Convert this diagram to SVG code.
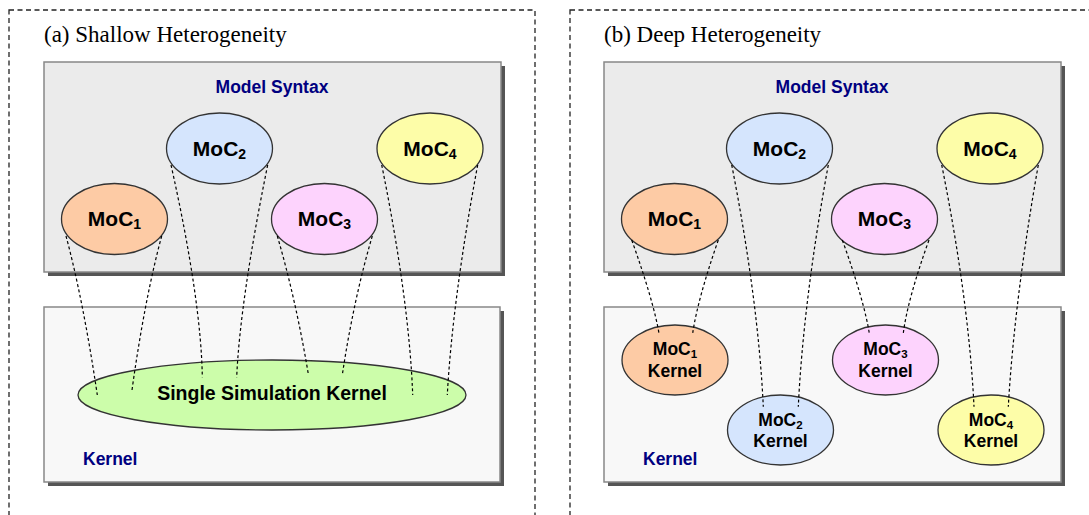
<svg xmlns="http://www.w3.org/2000/svg" width="1089" height="515" viewBox="0 0 1089 515">
<defs>
<style>
.frame{fill:none;stroke:#222;stroke-width:1.3;stroke-dasharray:5 3.5}
.title{font-family:"Liberation Serif","Times New Roman",serif;font-size:23px;fill:#000}
.shadow{fill:#555}
.syn{fill:#ebebeb;stroke:#888;stroke-width:1.5}
.ker{fill:#f8f8f8;stroke:#888;stroke-width:1.5}
.lab{font-family:"Liberation Sans",Arial,sans-serif;font-weight:bold;font-size:17.5px;fill:#000080}
.ell{stroke:#333;stroke-width:1.3}
.moc{font-family:"Liberation Sans",Arial,sans-serif;font-weight:bold;font-size:21px;fill:#000;text-anchor:middle}
.big{font-family:"Liberation Sans",Arial,sans-serif;font-weight:bold;font-size:19.5px;fill:#000;text-anchor:middle}
.mock{font-family:"Liberation Sans",Arial,sans-serif;font-weight:bold;font-size:17.5px;fill:#000;text-anchor:middle}
.c1{fill:#fdcba5}.c2{fill:#d5e5fd}.c3{fill:#fdd3fd}.c4{fill:#fdfda8}.cg{fill:#ccfdaa}
.conn{fill:none;stroke:#000;stroke-width:1.2;stroke-dasharray:3 2.5}
</style>
</defs>
<rect width="1089" height="515" fill="#fff"/>

<g id="panel-a">
<rect class="frame" x="9" y="10" width="526" height="560"/>
<text class="title" x="44" y="42">(a) Shallow Heterogeneity</text>
<g id="a-model-syntax">
<rect class="shadow" x="48" y="66" width="457" height="210"/>
<rect class="syn" x="44" y="62" width="457" height="210"/>
<text class="lab" x="272" y="92.5" text-anchor="middle">Model Syntax</text>
</g>
<g id="a-kernel">
<rect class="shadow" x="48" y="311" width="456" height="175"/>
<rect class="ker" x="44" y="307" width="456" height="175"/>
<text class="lab" x="83" y="465">Kernel</text>
</g>
<g id="a-moc1"><ellipse class="ell c1" cx="114.5" cy="219" rx="53" ry="35.5"/><text class="moc" x="114.5" y="226">MoC<tspan font-size="14" dy="3">1</tspan></text></g>
<g id="a-moc2"><ellipse class="ell c2" cx="219.5" cy="148.5" rx="53" ry="35.5"/><text class="moc" x="219.5" y="155.5">MoC<tspan font-size="14" dy="3">2</tspan></text></g>
<g id="a-moc3"><ellipse class="ell c3" cx="324.5" cy="219" rx="53" ry="35.5"/><text class="moc" x="324.5" y="226">MoC<tspan font-size="14" dy="3">3</tspan></text></g>
<g id="a-moc4"><ellipse class="ell c4" cx="430" cy="148.5" rx="53" ry="35.5"/><text class="moc" x="430" y="155.5">MoC<tspan font-size="14" dy="3">4</tspan></text></g>
<g id="a-single-kernel"><ellipse class="ell cg" cx="272" cy="395" rx="194" ry="35"/><text class="big" x="272" y="400">Single Simulation Kernel</text></g>
</g>

<g id="panel-b">
<rect class="frame" x="570" y="10" width="560" height="560"/>
<text class="title" x="604" y="42">(b) Deep Heterogeneity</text>
<g id="b-model-syntax">
<rect class="shadow" x="608" y="66" width="457" height="210"/>
<rect class="syn" x="604" y="62" width="457" height="210"/>
<text class="lab" x="832" y="92.5" text-anchor="middle">Model Syntax</text>
</g>
<g id="b-kernel">
<rect class="shadow" x="608" y="311" width="457" height="175"/>
<rect class="ker" x="604" y="307" width="457" height="175"/>
<text class="lab" x="643" y="465">Kernel</text>
</g>
<g id="b-moc1"><ellipse class="ell c1" cx="674.5" cy="219" rx="53" ry="35.5"/><text class="moc" x="674.5" y="226">MoC<tspan font-size="14" dy="3">1</tspan></text></g>
<g id="b-moc2"><ellipse class="ell c2" cx="779.5" cy="148.5" rx="53" ry="35.5"/><text class="moc" x="779.5" y="155.5">MoC<tspan font-size="14" dy="3">2</tspan></text></g>
<g id="b-moc3"><ellipse class="ell c3" cx="884.5" cy="219" rx="53" ry="35.5"/><text class="moc" x="884.5" y="226">MoC<tspan font-size="14" dy="3">3</tspan></text></g>
<g id="b-moc4"><ellipse class="ell c4" cx="990" cy="148.5" rx="53" ry="35.5"/><text class="moc" x="990" y="155.5">MoC<tspan font-size="14" dy="3">4</tspan></text></g>
<g id="b-moc1-kernel"><ellipse class="ell c1" cx="675" cy="360" rx="53" ry="35"/><text class="mock" x="675" y="355">MoC<tspan font-size="11.5" dy="3">1</tspan></text><text class="mock" x="675" y="377">Kernel</text></g>
<g id="b-moc2-kernel"><ellipse class="ell c2" cx="780.5" cy="430" rx="53" ry="35"/><text class="mock" x="780.5" y="425.5">MoC<tspan font-size="11.5" dy="3">2</tspan></text><text class="mock" x="780.5" y="447">Kernel</text></g>
<g id="b-moc3-kernel"><ellipse class="ell c3" cx="885.5" cy="360" rx="53" ry="35"/><text class="mock" x="885.5" y="355">MoC<tspan font-size="11.5" dy="3">3</tspan></text><text class="mock" x="885.5" y="377">Kernel</text></g>
<g id="b-moc4-kernel"><ellipse class="ell c4" cx="991" cy="430" rx="53" ry="35"/><text class="mock" x="991" y="425.5">MoC<tspan font-size="11.5" dy="3">4</tspan></text><text class="mock" x="991" y="447">Kernel</text></g>
</g>

<g id="connectors">
<path class="conn" d="M66,236 C77.2,277.6 88.2,333.3 97.3,395"/>
<path class="conn" d="M161.7,236 C150.4,277.6 139.9,332.3 131.7,392.3"/>
<path class="conn" d="M171,165 C190.7,252.8 201.7,327.1 202.3,377.3"/>
<path class="conn" d="M267.7,165 C249.7,252.8 238.8,327.1 236.7,377.3"/>
<path class="conn" d="M277.3,236 C289.5,277.6 300.3,325.9 308.3,374"/>
<path class="conn" d="M372.3,236 C360,277.6 349.5,326.3 342.3,375"/>
<path class="conn" d="M381.7,165 C399.6,252.8 410.5,333.3 412.7,395"/>
<path class="conn" d="M477.7,165 C461.2,252.8 450.6,333.3 447.3,395"/>
<path class="conn" d="M631.7,240 C645.7,279 655.3,311.7 659,333.3"/>
<path class="conn" d="M718.3,240 C704.7,279 695.7,311.7 692.7,333.3"/>
<path class="conn" d="M731.7,165 C749,252.8 760.1,337.3 763.3,406.7"/>
<path class="conn" d="M828.3,165 C812.1,252.8 801.6,337.3 798.3,406.7"/>
<path class="conn" d="M842.3,240 C856.4,279 865.9,311.7 869.3,333.3"/>
<path class="conn" d="M929,240 C914.9,279 905.9,311.7 903.3,333.3"/>
<path class="conn" d="M941.7,165 C959.4,252.8 970.7,337.3 974,406.7"/>
<path class="conn" d="M1038.3,165 C1022.7,252.8 1012.2,337.3 1008.3,406.7"/>
</g>
</svg>
